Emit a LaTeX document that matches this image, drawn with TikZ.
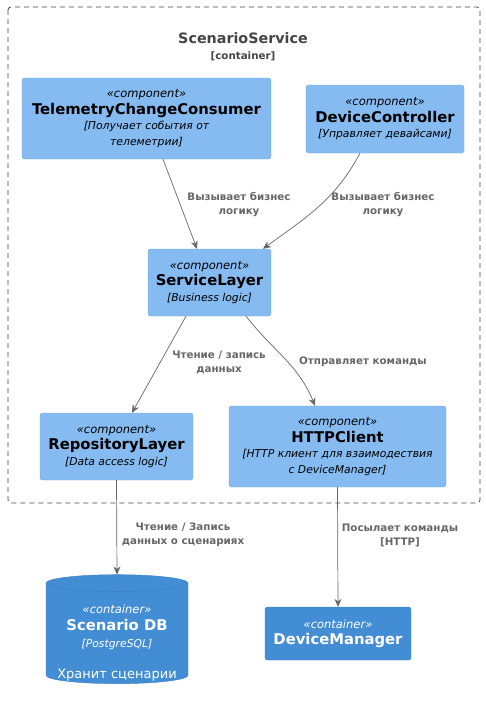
\documentclass[tikz,border=0pt]{standalone}
\usepackage{fontspec}
\setmainfont{DejaVu Sans}
\usetikzlibrary{arrows.meta,shapes.geometric}
\definecolor{compfill}{HTML}{85BBF0}
\definecolor{compline}{HTML}{78A8D8}
\definecolor{contfill}{HTML}{438DD5}
\definecolor{contline}{HTML}{3C7FC0}
\definecolor{relgray}{HTML}{666666}
\definecolor{titlegray}{HTML}{444444}
\newcommand{\stereo}[1]{{\fontsize{11.5}{15}\selectfont\itshape «#1»}}
\newcommand{\cname}[1]{{\fontsize{14.8}{17}\selectfont\bfseries #1}}
\newcommand{\cdesc}[1]{{\fontsize{10.8}{15}\selectfont\itshape #1}}
\begin{document}
\begin{tikzpicture}[x=1pt,y=-1pt,
    comp/.style={draw=compline,fill=compfill,rounded corners=2.5pt,align=center,inner sep=0pt,
      font=\fontsize{11}{15.5}\selectfont},
    cont/.style={comp,draw=contline,fill=contfill,text=white},
    dbshape/.style={draw=contline,fill=contfill,cylinder,shape border rotate=90,aspect=0.13,inner sep=0pt},
    rel/.style={draw=relgray,line width=0.7pt,-{Stealth[length=8pt,width=7pt]}},
    rellabel/.style={text=relgray,font=\fontsize{10.3}{14}\selectfont\bfseries,align=center,inner sep=0pt}]
  \useasboundingbox (0,0) rectangle (485,704);
  % boundary of the container
  \draw[titlegray,line width=0.8pt,dash pattern=on 5pt off 4pt,rounded corners=3pt] (8,7) rectangle (480,503);
  \node[text=titlegray,align=center,inner sep=0pt,font=\fontsize{10.3}{16}\selectfont] (title) at (243,47)
    {{\fontsize{14.3}{17}\selectfont\bfseries ScenarioService}\\{\bfseries [container]}};
  % components
  \node[comp,minimum width=249pt,minimum height=81pt] (tcc) at (146.5,118.5)
    {\stereo{component}\\[1pt]\cname{TelemetryChangeConsumer}\\\cdesc{[Получает события от}\\\cdesc{телеметрии]}};
  \node[comp,minimum width=158pt,minimum height=68pt] (dc) at (385,119)
    {\stereo{component}\\[1pt]\cname{DeviceController}\\\cdesc{[Управляет девайсами]}};
  \node[comp,minimum width=123pt,minimum height=67pt] (sl) at (209.5,282.5)
    {\stereo{component}\\[1pt]\cname{ServiceLayer}\\\cdesc{[Business logic]}};
  \node[comp,minimum width=153pt,minimum height=67pt] (rl) at (116.5,446.5)
    {\stereo{component}\\[1pt]\cname{RepositoryLayer}\\\cdesc{[Data access logic]}};
  \node[comp,minimum width=217pt,minimum height=81pt] (hc) at (337.5,446.5)
    {\stereo{component}\\[1pt]\cname{HTTPClient}\\\cdesc{[HTTP клиент для взаимодествия}\\\cdesc{с DeviceManager]}};
  % outside containers
  \node[dbshape,minimum width=142pt,minimum height=109pt] (db) at (117,633.5) {\hspace*{130pt}};
  \node[text=white,align=center,inner sep=0pt,font=\fontsize{11}{15.5}\selectfont] (dbtext) at (117,643)
    {\stereo{container}\\[1pt]\cname{Scenario DB}\\[1.5pt]\cdesc{[PostgreSQL]}\\[16pt]{\fontsize{13}{15}\selectfont Хранит сценарии}};
  \node[cont,minimum width=146pt,minimum height=53pt] (dm) at (338,633.5)
    {\stereo{container}\\[1pt]\cname{DeviceManager}};
  % relations
  \draw[rel] ([xshift=16.5pt]tcc.south) -- ([xshift=-12.5pt]sl.north);
  \draw[rel] ([xshift=-25pt]dc.south) to[out=-118,in=36] ([xshift=53.5pt]sl.north);
  \draw[rel] ([xshift=-23.5pt]sl.south) -- ([xshift=15.5pt]rl.north);
  \draw[rel] ([xshift=36.5pt]sl.south) to[out=-52,in=112] ([xshift=-22.5pt]hc.north);
  \draw[rel] (rl.south) -- (db.north);
  \draw[rel] (hc.south) -- (dm.north);
  \node[rellabel] (l1) at (239,205) {Вызывает бизнес\\логику};
  \node[rellabel] (l2) at (383,205) {Вызывает бизнес\\логику};
  \node[rellabel] (l3) at (219,362) {Чтение / запись\\данных};
  \node[rellabel] (l4) at (363,362) {Отправляет команды};
  \node[rellabel] (l5) at (183,535) {Чтение / Запись\\данных о сценариях};
  \node[rellabel] (l6) at (400,535) {Посылает команды\\{[}HTTP{]}};
\end{tikzpicture}
\end{document}
